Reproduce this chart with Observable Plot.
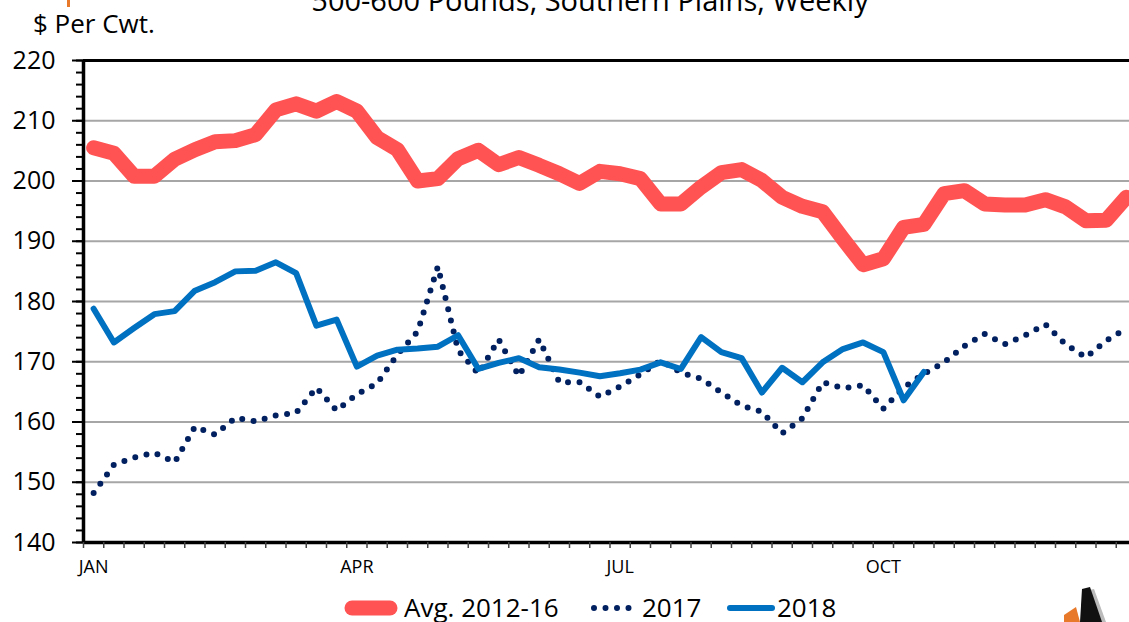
<!DOCTYPE html>
<html>
<head>
<meta charset="utf-8">
<script src="https://cdn.jsdelivr.net/npm/d3@7"></script>
<script src="https://cdn.jsdelivr.net/npm/@observablehq/plot@0.6"></script>
<style>
  html, body { margin: 0; padding: 0; background: #fff; overflow: hidden; }
  #wrap { position: relative; width: 1180px; height: 622px; font-family: "Open Sans", sans-serif; color: #000; }
  #chart { position: absolute; left: 0; top: 0; }
  .abs { position: absolute; white-space: nowrap; line-height: 1; }
</style>
</head>
<body>
<div id="wrap">
  <div id="chart"></div>
  <div class="abs" id="title" style="left:0;width:1180px;text-align:center;top:-15px;font-size:29px;">500-600 Pounds, Southern Plains, Weekly</div>
  <div class="abs" id="ylab" style="left:33px;top:10px;font-size:26px;">$ Per Cwt.</div>
  <div style="position:absolute;left:67px;top:0;width:3px;height:7px;background:#e8792a;"></div>
  <svg id="legend" style="position:absolute;left:0;top:580px;" width="1180" height="42"></svg>
  <svg id="logo" style="position:absolute;left:1050px;top:585px;" width="80" height="37">
    <polygon points="34,6 44,4 56,37 40,37" fill="#bbb"></polygon>
    <polygon points="32,4 40,2 52,37 30,37" fill="#111"></polygon>
    <polygon points="14,30 26,22 30,37 14,37" fill="#e8792a"></polygon>
  </svg>
</div>
<script>
// ---- data ----
const weeks = [1,2,3,4,5,6,7,8,9,10,11,12,13,14,15,16,17,18,19,20,21,22,23,24,25,26,
               27,28,29,30,31,32,33,34,35,36,37,38,39,40,41,42,43,44,45,46,47,48,49,50,51,52];
const seriesNames = ["Avg. 2012-16", "2017", "2018"];
const avg2012_16 = [205.5,204.6,200.8,200.8,203.6,205.2,206.5,206.7,207.7,211.8,212.8,211.6,213.2,211.6,207.2,205.2,
                    200.0,200.4,203.7,205.1,202.7,203.9,202.6,201.2,199.6,201.6,201.2,200.4,196.2,196.2,199.0,201.4,
                    201.9,200.1,197.3,195.8,194.9,190.4,186.1,187.1,192.3,192.8,197.9,198.4,196.2,196.0,196.0,196.9,
                    195.7,193.4,193.5,197.3];
const y2017 = [148.2,152.9,154.1,154.9,153.3,159.2,157.9,160.7,160.1,161.1,161.5,165.7,161.9,164.6,166.4,171.2,
               175.0,185.8,171.9,168.0,173.7,167.6,173.7,166.6,166.6,164.2,165.9,167.9,170.2,168.2,167.2,164.9,
               162.7,161.7,158.1,160.6,166.6,165.6,166.1,162.2,165.7,168.0,169.9,172.6,174.6,172.9,174.4,176.2,
               172.9,170.7,173.5,175.5];
const y2018 = [178.8,173.2,175.6,177.9,178.4,181.8,183.2,185.0,185.1,186.5,184.7,176.0,177.0,169.2,171.0,172.0,
               172.2,172.5,174.4,168.8,169.8,170.6,169.1,168.7,168.2,167.6,168.1,168.7,169.9,168.8,174.1,171.6,
               170.6,164.9,169.0,166.6,169.9,172.1,173.2,171.6,163.6,168.3];
const monthWeeks = [1, 14, 27, 40];
const monthLabels = ["JAN", "APR", "JUL", "OCT"];
const yMajor = [140,150,160,170,180,190,200,210,220];
const yGrid = [150,160,170,180,190,200,210];
const yMinor = d3.range(140, 221, 2);
const weekBounds = d3.range(0.5, 53.6, 1);

const colors = {avg: "#ff5353", y2017: "#002060", y2018: "#0070c0"};
const rows = vals => vals.map((v, i) => ({week: weeks[i], value: v}));

const chart = Plot.plot({
  width: 1180,
  height: 622,
  marginTop: 60,
  marginBottom: 80,
  marginLeft: 83,
  marginRight: 23.75,
  x: {domain: [0.5, 53.5]},
  y: {domain: [140, 220]},
  style: {fontFamily: "Open Sans", background: "white", color: "black"},
  marks: [
    Plot.ruleY(yGrid, {stroke: "#a6a6a6", strokeWidth: 2}),
    Plot.line(rows(avg2012_16), {x: "week", y: "value", stroke: colors.avg, strokeWidth: 15}),
    Plot.line(rows(y2017), {x: "week", y: "value", stroke: colors.y2017, strokeWidth: 6, strokeDasharray: "0 11.5", strokeLinecap: "round"}),
    Plot.line(rows(y2018), {x: "week", y: "value", stroke: colors.y2018, strokeWidth: 6}),
    Plot.ruleY([220], {stroke: "black", strokeWidth: 3}),
    Plot.ruleY([140], {stroke: "black", strokeWidth: 3.5}),
    Plot.ruleX([0.5], {stroke: "black", strokeWidth: 3.5}),
    Plot.axisY({ticks: yMinor, tickSize: 7, tickFormat: () => "", stroke: "black", strokeWidth: 2, label: null}),
    Plot.axisY({ticks: yMajor, tickSize: 11, tickPadding: 17, fontSize: 25, stroke: "black", strokeWidth: 2, label: null}),
    Plot.axisX({ticks: weekBounds, tickSize: 6, tickFormat: () => "", stroke: "#444", strokeWidth: 1.5, label: null}),
    Plot.axisX({ticks: monthWeeks, tickSize: 0, tickPadding: 18, fontSize: 18,
                tickFormat: d => monthLabels[monthWeeks.indexOf(d)], label: null})
  ]
});
document.getElementById("chart").appendChild(chart);

// ---- legend ----
const ns = "http://www.w3.org/2000/svg";
const lg = document.getElementById("legend");
function el(tag, attrs, text) {
  const e = document.createElementNS(ns, tag);
  for (const k in attrs) e.setAttribute(k, attrs[k]);
  if (text) e.textContent = text;
  lg.appendChild(e);
  return e;
}
const cy = 28;
const items = [
  {x1: 352, x2: 390, stroke: colors.avg, width: 15, dash: null, tx: 404, name: seriesNames[0]},
  {x1: 594, x2: 638, stroke: colors.y2017, width: 6, dash: "0 11.5", tx: 642, name: seriesNames[1]},
  {x1: 730, x2: 772, stroke: colors.y2018, width: 6, dash: null, tx: 777, name: seriesNames[2]}
];
for (const it of items) {
  const a = {x1: it.x1, x2: it.x2, y1: cy, y2: cy, stroke: it.stroke, "stroke-width": it.width, "stroke-linecap": "round"};
  if (it.dash) a["stroke-dasharray"] = it.dash;
  el("line", a);
  el("text", {x: it.tx, y: cy + 9, "font-family": "Open Sans", "font-size": 26, fill: "#000"}, it.name);
}
</script>
</body>
</html>
